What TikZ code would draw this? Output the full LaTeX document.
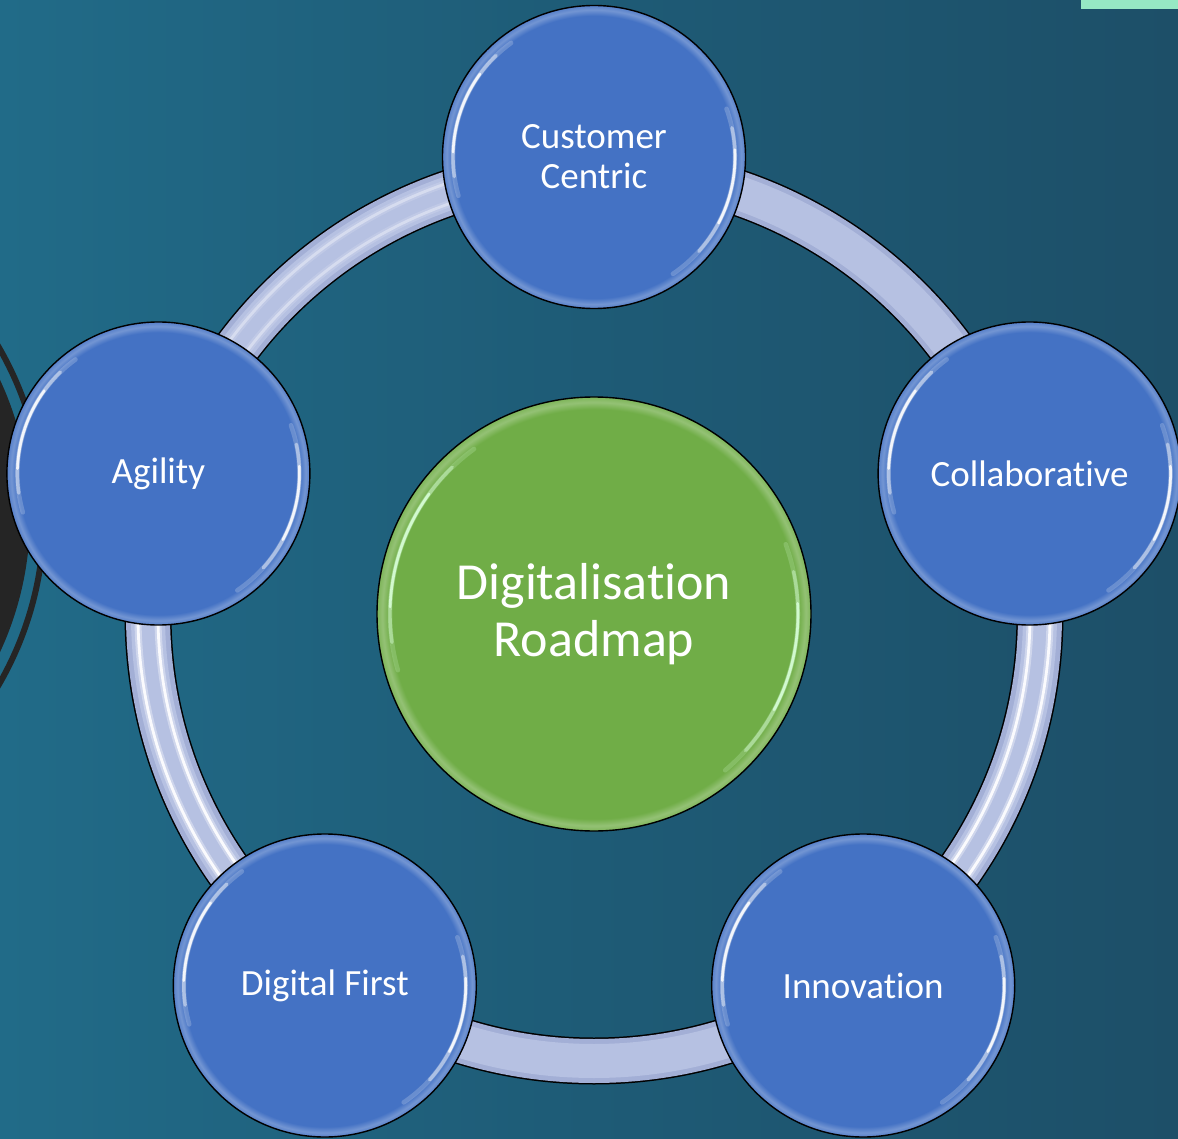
\documentclass[tikz,border=0pt]{standalone}
\usepackage{fontspec}
\setmainfont[Ligatures={NoCommon}]{Carlito}
\definecolor{bgleft}{HTML}{216B88}
\definecolor{bgmid}{HTML}{1E5B76}
\definecolor{bgright}{HTML}{1D4F68}
\definecolor{nodeblue}{HTML}{4472C4}
\definecolor{hubgreen}{HTML}{70AD47}
\definecolor{ringfill}{HTML}{B6C1E2}
\definecolor{ringedge}{HTML}{A3AFD6}
\definecolor{mint}{HTML}{96E8C4}
\definecolor{darkdisc}{HTML}{252525}
% glossy discs: flat colour with a lighter rim just inside the outline
\pgfdeclareradialshading{bluedisc}{\pgfpoint{0bp}{0bp}}{%
  color(0bp)=(nodeblue); color(23.3bp)=(nodeblue);
  color(24.3bp)=(nodeblue!75!white); color(25bp)=(nodeblue!90!white);
  color(50bp)=(nodeblue)}
\pgfdeclareradialshading{greendisc}{\pgfpoint{0bp}{0bp}}{%
  color(0bp)=(hubgreen); color(23.6bp)=(hubgreen);
  color(24.4bp)=(hubgreen!75!white); color(25bp)=(hubgreen!90!white);
  color(50bp)=(hubgreen)}
% white glints along the upper-left and lower-right inner edge of a disc
\newcommand{\glint}[4]{% node, radius, glint colour, lower-right span end
  \foreach \a/\b/\o/\w in {126/196/0.2/4.5pt, 134/188/0.45/3.4pt, 144/178/0.85/2.6pt}{%
    \draw[#3, opacity=\o, line width=\w, line cap=round]
      (#1.center) ++(\a:#2) arc[start angle=\a, end angle=\b, radius=#2];}
  \foreach \a/\b/\o/\w in {20/#4/0.2/4.5pt, 12/-42/0.45/3.4pt, 3/-28/0.85/2.6pt}{%
    \draw[#3, opacity=\o, line width=\w, line cap=round]
      (#1.center) ++(\a:#2) arc[start angle=\a, end angle=\b, radius=#2];}}
\newcommand{\ringstripes}[3]{% start angle, end angle, strength
  \foreach \r in {436pt,456pt}{%
    \draw[white, opacity=0.35*#3, line width=7pt]
      (hub) ++(#1:\r) arc[start angle=#1, end angle=#2, radius=\r];
    \draw[white, opacity=0.9*#3, line width=2.8pt]
      (hub) ++(#1:\r) arc[start angle=#1, end angle=#2, radius=\r];}}
\begin{document}
\begin{tikzpicture}[x=1pt, y=-1pt,
  leaf/.style={circle, draw=black, line width=1.4pt, shading=bluedisc,
    minimum size=303pt, inner sep=0pt, text=white, align=center,
    font=\fontsize{37}{40}\selectfont},
  core/.style={circle, draw=black, line width=1.4pt, shading=greendisc,
    minimum size=434pt, inner sep=0pt, text=white, align=center,
    font=\fontsize{52}{57}\selectfont}]
\useasboundingbox (0,0) rectangle (1178,1139);
\clip (0,0) rectangle (1178,1139);

% backdrop
\shade[left color=bgleft, right color=bgright, middle color=bgmid]
  (0,0) rectangle (1178,1139);
\fill[mint] (1081,0) rectangle (1178,9);

% dark disc with its outer ring at the left edge
\fill[darkdisc] (-293,516) circle[radius=323pt];
\draw[darkdisc, line width=6pt] (-293,516) circle[radius=337pt];

% the ring that links the five discs
\coordinate (hub) at (594,615);
\draw[black, line width=47pt] (hub) circle[radius=446pt];
\draw[ringedge, line width=44pt] (hub) circle[radius=446pt];
\draw[ringfill, line width=34pt] (hub) circle[radius=446pt];
\ringstripes{162}{234}{1}
\ringstripes{18}{-54}{1}
\ringstripes{100}{162}{0.4}

% centre disc
\node[core] (hubdisc) at (594,614) {Digitalisation\\Roadmap};

% outer discs
\node[leaf] (cc) at (594,157) {Customer\\Centric};
\node[leaf] (co) at (1029.6,473.5) {Collaborative};
\node[leaf] (in) at (863.2,985.5) {Innovation};
\node[leaf] (df) at (324.8,985.5) {Digital First};
\node[leaf] (ag) at (158.4,473.5) {Agility};

\glint{hubdisc}{204pt}{green!15!white}{-50}
\foreach \n in {cc,co,in,df,ag}{\glint{\n}{141pt}{white}{-56}}
\end{tikzpicture}
\end{document}
